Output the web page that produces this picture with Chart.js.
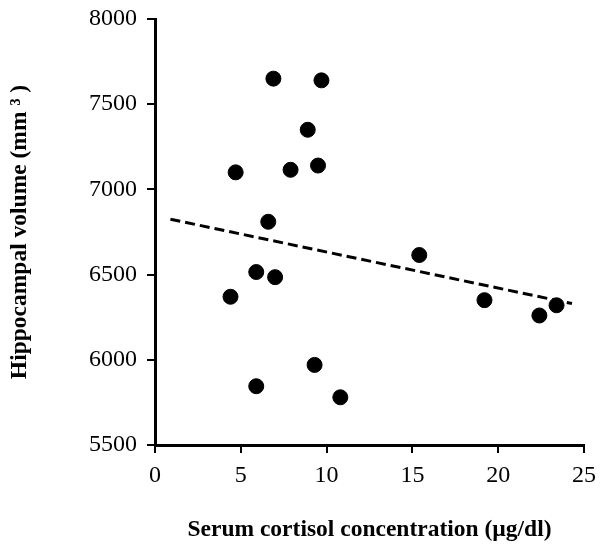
<!DOCTYPE html>
<html>
<head>
<meta charset="utf-8">
<script src="https://cdn.jsdelivr.net/npm/chart.js@4"></script>
<style>
  html, body { margin: 0; padding: 0; background: #fff; }
  #wrap { width: 600px; height: 548px; }
</style>
</head>
<body>
<div id="wrap"><canvas id="chart"></canvas></div>
<script>
var cortisol = [6.9, 9.7, 8.9, 4.7, 7.9, 9.5, 6.6, 5.9, 7.0, 4.4, 15.4, 9.3, 5.9, 10.8, 19.2, 22.4, 23.4];
var volume = [7650, 7640, 7350, 7100, 7115, 7140, 6810, 6515, 6485, 6370, 6615, 5970, 5845, 5780, 6350, 6260, 6320];
var fitX = [0.9, 24.3];
var fitY = [6825, 6330];
var xTicks = [0, 5, 10, 15, 20, 25];
var yTicks = [5500, 6000, 6500, 7000, 7500, 8000];

var serif = "'Liberation Serif', 'DejaVu Serif', serif";

var points = [];
for (var i = 0; i < cortisol.length; i++) {
    points.push({ x: cortisol[i], y: volume[i] });
}
var fitLine = [];
for (var j = 0; j < fitX.length; j++) {
    fitLine.push({ x: fitX[j], y: fitY[j] });
}

function plain(v) { return String(v); }

var ctx = document.getElementById('chart').getContext('2d');
new Chart(ctx, {
    type: 'scatter',
    data: {
        datasets: [{
            data: points,
            backgroundColor: '#000',
            borderColor: '#000',
            pointRadius: 7.5,
            pointHoverRadius: 7.5
        }, {
            type: 'line',
            data: fitLine,
            borderColor: '#000',
            borderWidth: 3,
            borderDash: [10, 5],
            pointRadius: 0,
            fill: false
        }]
    },
    options: {
        responsive: true,
        maintainAspectRatio: false,
        animation: false,
        layout: { padding: { top: 19, right: 16, left: 0, bottom: 0 } },
        plugins: { legend: { display: false }, tooltip: { enabled: false } },
        scales: {
            x: {
                type: 'linear',
                min: 0,
                max: 25,
                afterBuildTicks: function(axis) {
                    axis.ticks = xTicks.map(function(v) { return { value: v }; });
                },
                afterFit: function(axis) {
                    axis.height = 103;
                    axis.paddingLeft = 0;
                    axis.paddingRight = 0;
                },
                border: { display: true, color: '#000', width: 3 },
                grid: { drawOnChartArea: false, drawTicks: true, tickLength: 8, color: '#000', lineWidth: 2 },
                ticks: { color: '#000', padding: 8, maxRotation: 0, callback: plain, font: { family: serif, size: 24 } },
                title: {
                    display: true,
                    text: 'Serum cortisol concentration (\u00b5g/dl)',
                    color: '#000',
                    font: { family: serif, size: 23.5, weight: 'bold' },
                    padding: { top: 14 }
                }
            },
            y: {
                type: 'linear',
                min: 5500,
                max: 8000,
                afterBuildTicks: function(axis) {
                    axis.ticks = yTicks.map(function(v) { return { value: v }; });
                },
                afterFit: function(axis) {
                    axis.width = 155;
                    axis.paddingTop = 0;
                    axis.paddingBottom = 0;
                },
                border: { display: true, color: '#000', width: 3 },
                grid: { drawOnChartArea: false, drawTicks: true, tickLength: 8, color: '#000', lineWidth: 2 },
                ticks: { color: '#000', padding: 10, callback: plain, font: { family: serif, size: 24 } },
                title: {
                    display: true,
                    text: 'Hippocampal volume (mm \u00b3 )',
                    color: '#000',
                    font: { family: serif, size: 23.5, weight: 'bold' },
                    padding: { bottom: 0, top: 6 }
                }
            }
        }
    }
});
</script>
</body>
</html>
